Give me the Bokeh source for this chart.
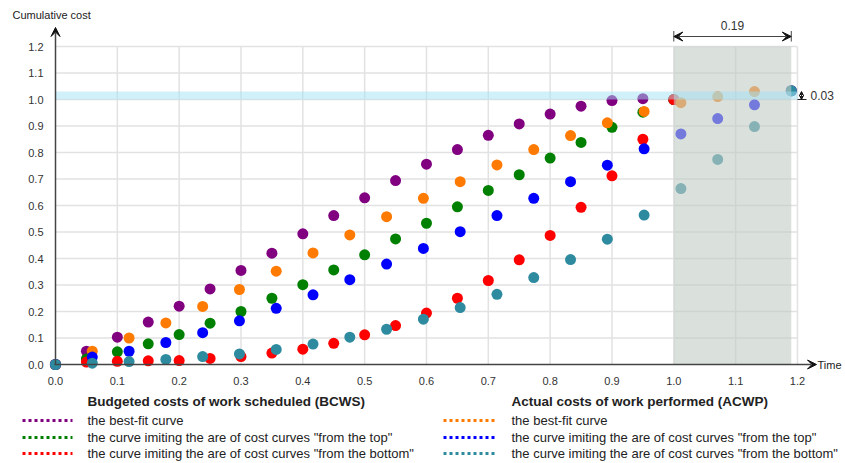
from bokeh.plotting import figure
from bokeh.models import Range1d, Arrow, VeeHead
from bokeh.core.properties import value
from bokeh.embed import file_html
from bokeh.resources import INLINE

# ---------------- data ----------------
bcws_time = [0.0, 0.05, 0.10, 0.15, 0.20, 0.25, 0.30, 0.35, 0.40, 0.45, 0.50,
             0.55, 0.60, 0.65, 0.70, 0.75, 0.80, 0.85, 0.90, 0.95, 1.00]
bcws_best = [0.0, 0.050, 0.103, 0.160, 0.220, 0.285, 0.355, 0.420, 0.493, 0.562, 0.629,
             0.694, 0.756, 0.811, 0.865, 0.908, 0.945, 0.975, 0.996, 1.003, 1.000]
bcws_top = [0.0, 0.021, 0.048, 0.078, 0.113, 0.156, 0.200, 0.250, 0.301, 0.357, 0.414,
            0.474, 0.533, 0.595, 0.657, 0.716, 0.779, 0.838, 0.895, 0.952, 1.000]
bcws_bottom = [0.0, 0.009, 0.012, 0.014, 0.015, 0.023, 0.030, 0.043, 0.058, 0.080, 0.112,
               0.147, 0.194, 0.250, 0.317, 0.395, 0.487, 0.593, 0.712, 0.850, 1.000]

acwp_time = [0.0, 0.0595, 0.119, 0.1785, 0.238, 0.2975, 0.357, 0.4165, 0.476, 0.5355, 0.595,
             0.6545, 0.714, 0.7735, 0.833, 0.8925, 0.952, 1.0115, 1.071, 1.1305, 1.19]
acwp_best = [0.0, 0.050, 0.100, 0.157, 0.219, 0.283, 0.352, 0.421, 0.489, 0.558, 0.627,
             0.690, 0.753, 0.811, 0.864, 0.912, 0.955, 0.988, 1.011, 1.030, 1.033]
acwp_top = [0.0, 0.028, 0.050, 0.083, 0.120, 0.165, 0.212, 0.263, 0.320, 0.379, 0.438,
            0.501, 0.562, 0.627, 0.690, 0.752, 0.814, 0.870, 0.928, 0.980, 1.033]
acwp_bottom = [0.0, 0.005, 0.011, 0.019, 0.030, 0.040, 0.057, 0.077, 0.103, 0.133, 0.171,
               0.215, 0.265, 0.328, 0.396, 0.473, 0.564, 0.664, 0.774, 0.898, 1.033]

ticks = [0.0, 0.1, 0.2, 0.3, 0.4, 0.5, 0.6, 0.7, 0.8, 0.9, 1.0, 1.1, 1.2]
tick_labels = ["0.0", "0.1", "0.2", "0.3", "0.4", "0.5", "0.6", "0.7", "0.8", "0.9", "1.0", "1.1", "1.2"]

delay_start = 1.0
delay_end = 1.19
overrun_low = 1.0
overrun_high = 1.03
delay_label = "0.19"
overrun_label = "0.03"

bcws_heading = "Budgeted costs of work scheduled (BCWS)"
acwp_heading = "Actual costs of work performed (ACWP)"
legend_labels = ["the best-fit curve",
                 "the curve imiting the are of cost curves \"from the top\"",
                 "the curve imiting the are of cost curves \"from the bottom\""]

PURPLE, GREEN, RED = "#800080", "#008000", "#ff0000"
ORANGE, BLUE, TEAL = "#ff7a00", "#0000ff", "#2e8b9f"

# ---------------- geometry ----------------
W, H = 845, 463
X0, XS = 55.0, 618.3     # canvas px of x=0, px per unit
Y0, YS = 364.0, 265.0    # canvas px of y=0, px per unit


def fx(px):
    return (px - X0) / XS


def fy(py):
    return (Y0 - py) / YS


FONT = value("Liberation Sans")

p = figure(width=W, height=H, x_range=Range1d(fx(0), fx(W)), y_range=Range1d(fy(H), fy(0)),
           output_backend="svg", toolbar_location=None, min_border=0)
p.axis.visible = False
p.grid.visible = False
p.outline_line_color = None
p.background_fill_color = "white"
p.border_fill_color = "white"

top = ticks[-1]
# grid
p.segment(x0=ticks[1:], y0=[0] * (len(ticks) - 1), x1=ticks[1:], y1=[top] * (len(ticks) - 1),
          line_color="#e2e2e2", line_width=1.5)
p.segment(x0=[0] * (len(ticks) - 1), y0=ticks[1:], x1=[top] * (len(ticks) - 1), y1=ticks[1:],
          line_color="#e2e2e2", line_width=1.5)

# points
for t, v, c in [(bcws_time, bcws_best, PURPLE), (bcws_time, bcws_top, GREEN),
                (bcws_time, bcws_bottom, RED), (acwp_time, acwp_best, ORANGE),
                (acwp_time, acwp_top, BLUE), (acwp_time, acwp_bottom, TEAL)]:
    p.scatter(t, v, size=11, fill_color=c, line_color=None)

# shaded delay region and overrun band
p.quad(left=[delay_start], right=[delay_end], bottom=[0], top=[top],
       fill_color="#c1cbc5", fill_alpha=0.6, line_color=None)
p.quad(left=[0], right=[top], bottom=[overrun_low], top=[overrun_high],
       fill_color="#a1e1f5", fill_alpha=0.5, line_color=None)

# axes
AX = "#444444"
p.add_layout(Arrow(x_start=0, y_start=0, x_end=0, y_end=fy(27), line_color=AX, line_width=1.5,
                   end=VeeHead(size=9, fill_color="#111111", line_color="#111111")))
p.add_layout(Arrow(x_start=fx(X0 - 1), y_start=0, x_end=fx(816), y_end=0, line_color=AX, line_width=1.5,
                   end=VeeHead(size=9, fill_color="#111111", line_color="#111111")))

# tick labels
p.text(x=[fx(43)] * len(ticks), y=ticks, text=tick_labels, text_font=FONT, text_font_size="11px",
       text_align="right", text_baseline="middle", text_color="#333333")
p.text(x=ticks, y=[fy(380)] * len(ticks), text=tick_labels, text_font=FONT, text_font_size="11px",
       text_align="center", text_baseline="middle", text_color="#333333")

p.text(x=[fx(12)], y=[fy(14)], text=["Cumulative cost"], text_font=FONT, text_font_size="11px",
       text_align="left", text_baseline="middle", text_color="#222222")
p.text(x=[fx(817)], y=[0], text=["Time"], text_font=FONT, text_font_size="11px",
       text_align="left", text_baseline="middle", text_color="#222222")

# dimension 0.19
dim_y = fy(36)
p.segment(x0=[delay_start, delay_end], y0=[fy(30.5)] * 2, x1=[delay_start, delay_end], y1=[fy(41)] * 2,
          line_color="#444444", line_width=1)
p.add_layout(Arrow(x_start=delay_start, y_start=dim_y, x_end=delay_end, y_end=dim_y,
                   line_color="#444444", line_width=1,
                   start=VeeHead(size=9, fill_color="#111111", line_color="#111111"),
                   end=VeeHead(size=9, fill_color="#111111", line_color="#111111")))
p.text(x=[(delay_start + delay_end) / 2], y=[fy(25)], text=[delay_label], text_font=FONT,
       text_font_size="12px", text_align="center", text_baseline="middle", text_color="#333333")

# dimension 0.03
ax03 = fx(801)
p.segment(x0=[fx(797)], y0=[overrun_low], x1=[fx(806)], y1=[overrun_low], line_color="#222222", line_width=1)
p.add_layout(Arrow(x_start=ax03, y_start=overrun_low, x_end=ax03, y_end=overrun_high,
                   line_color="#222222", line_width=1,
                   start=VeeHead(size=4, fill_color="#111111", line_color="#111111"),
                   end=VeeHead(size=4, fill_color="#111111", line_color="#111111")))
p.text(x=[fx(810)], y=[(overrun_low + overrun_high) / 2], text=[overrun_label], text_font=FONT,
       text_font_size="12px", text_align="left", text_baseline="middle", text_color="#333333")

# legend
head_y = fy(401)
row_y = [fy(420), fy(437), fy(453)]
p.text(x=[fx(87), fx(511)], y=[head_y, head_y], text=[bcws_heading, acwp_heading], text_font=FONT,
       text_font_size="13.5px", text_font_style="bold", text_align="left", text_baseline="middle",
       text_color="#222222")
for col_x0, col_x1, text_x, colors in [(fx(22), fx(72), fx(87), [PURPLE, GREEN, RED]),
                                       (fx(443), fx(497), fx(511), [ORANGE, BLUE, TEAL])]:
    for yy, c, lab in zip(row_y, colors, legend_labels):
        p.segment(x0=[col_x0], y0=[yy], x1=[col_x1], y1=[yy], line_color=c, line_width=3,
                  line_dash="3 3")
        p.text(x=[text_x], y=[yy], text=[lab], text_font=FONT, text_font_size="13px",
               text_align="left", text_baseline="middle", text_color="#222222")

open("out.html", "w").write(file_html(p, INLINE))
